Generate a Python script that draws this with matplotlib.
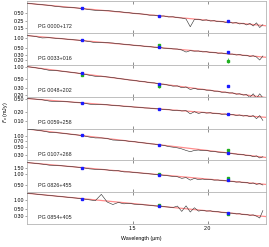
import numpy as np
import matplotlib
matplotlib.use("Agg")
import matplotlib.pyplot as plt
from matplotlib.ticker import FixedLocator, NullLocator, FixedFormatter

plt.rcParams['font.family'] = ['Liberation Sans', 'DejaVu Sans']
plt.rcParams['font.size'] = 3.8

# -------------------------------
# DATA
# -------------------------------
wave = [1.00, 1.03, 1.06, 1.09, 1.12, 1.15, 1.18, 1.21, 1.24, 1.27,
        1.30, 1.33, 1.36, 1.39, 1.42, 1.45, 1.48, 1.51, 1.54, 1.57,
        1.60, 1.63, 1.66, 1.69, 1.72, 1.75, 1.78, 1.81, 1.84, 1.87,
        1.90, 1.93, 1.96, 1.99, 2.02, 2.05, 2.08, 2.11, 2.14, 2.17,
        2.20, 2.23, 2.26, 2.29, 2.32, 2.35, 2.38, 2.41, 2.44, 2.47]

names = ["PG 0000+172", "PG 0033+016", "PG 0048+202", "PG 0059+258",
         "PG 0107+268", "PG 0826+455", "PG 0854+405"]

flux_0000 = [1.08, 1.018, 0.961, 0.909, 0.83, 0.79, 0.775, 0.738, 0.702, 0.64,
             0.61, 0.60, 0.595, 0.57, 0.55, 0.52, 0.50, 0.47, 0.46, 0.44,
             0.41, 0.41, 0.38, 0.385, 0.355, 0.36, 0.335, 0.325, 0.30, 0.16,
             0.29, 0.295, 0.27, 0.28, 0.255, 0.262, 0.24, 0.25, 0.228, 0.235,
             0.215, 0.225, 0.20, 0.215, 0.185, 0.21, 0.17, 0.22, 0.15, 0.19]
flux_0033 = [1.22, 1.15, 1.02, 1.04, 0.99, 0.955, 0.91, 0.875, 0.84, 0.78,
             0.72, 0.74, 0.72, 0.70, 0.67, 0.64, 0.62, 0.59, 0.58, 0.55,
             0.54, 0.515, 0.51, 0.48, 0.475, 0.455, 0.45, 0.42, 0.36, 0.40,
             0.385, 0.39, 0.365, 0.37, 0.35, 0.355, 0.33, 0.335, 0.32, 0.31,
             0.31, 0.29, 0.30, 0.28, 0.285, 0.26, 0.275, 0.25, 0.20, 0.27]
flux_0048 = [1.05, 0.99, 0.92, 0.84, 0.83, 0.79, 0.755, 0.72, 0.68, 0.63,
             0.59, 0.595, 0.57, 0.55, 0.52, 0.50, 0.475, 0.465, 0.44, 0.43,
             0.405, 0.40, 0.375, 0.37, 0.35, 0.33, 0.335, 0.30, 0.315, 0.27,
             0.29, 0.27, 0.275, 0.26, 0.26, 0.245, 0.245, 0.23, 0.232, 0.22,
             0.222, 0.205, 0.21, 0.195, 0.20, 0.17, 0.21, 0.16, 0.21, 0.165]
flux_0059 = [0.52, 0.50, 0.475, 0.43, 0.415, 0.42, 0.405, 0.39, 0.375, 0.345,
             0.33, 0.335, 0.33, 0.315, 0.31, 0.295, 0.29, 0.278, 0.274, 0.262,
             0.258, 0.247, 0.245, 0.234, 0.232, 0.22, 0.222, 0.21, 0.215, 0.17,
             0.20, 0.175, 0.19, 0.18, 0.185, 0.172, 0.176, 0.165, 0.168, 0.158,
             0.162, 0.152, 0.157, 0.145, 0.152, 0.138, 0.15, 0.12, 0.15, 0.105]
flux_0107 = [1.55, 1.46, 1.37, 1.25, 1.22, 1.17, 1.11, 1.06, 1.005, 0.92,
             0.87, 0.87, 0.84, 0.76, 0.75, 0.74, 0.70, 0.685, 0.65, 0.63,
             0.60, 0.585, 0.56, 0.54, 0.50, 0.48, 0.46, 0.43, 0.39, 0.36,
             0.39, 0.40, 0.385, 0.39, 0.37, 0.365, 0.35, 0.345, 0.335, 0.33,
             0.315, 0.31, 0.295, 0.30, 0.28, 0.285, 0.26, 0.275, 0.24, 0.26]
flux_0826 = [2.05, 1.96, 1.86, 1.74, 1.72, 1.66, 1.60, 1.54, 1.48, 1.38,
             1.34, 1.33, 1.29, 1.22, 1.23, 1.14, 1.14, 1.10, 1.07, 1.04,
             1.01, 0.98, 0.955, 0.92, 0.89, 0.86, 0.84, 0.76, 0.80, 0.68,
             0.76, 0.70, 0.73, 0.70, 0.71, 0.68, 0.685, 0.66, 0.655, 0.635,
             0.63, 0.60, 0.61, 0.58, 0.59, 0.55, 0.57, 0.52, 0.55, 0.50]
flux_0854 = [1.75, 1.65, 1.55, 1.47, 1.39, 1.32, 1.25, 1.19, 1.12, 1.04,
             0.98, 1.60, 0.88, 0.72, 0.85, 0.76, 0.79, 0.74, 0.73, 0.70,
             0.68, 0.65, 0.63, 0.61, 0.59, 0.57, 0.64, 0.42, 0.65, 0.40,
             0.56, 0.43, 0.46, 0.43, 0.44, 0.41, 0.41, 0.39, 0.385, 0.37,
             0.365, 0.345, 0.35, 0.325, 0.33, 0.31, 0.32, 0.29, 0.25, 0.45]

# model (red line) end points at 1.0 and 2.5 micron
model_wave = [1.0, 2.5]
model_0000 = [1.08, 0.173]
model_0033 = [1.22, 0.245]
model_0048 = [1.05, 0.168]
model_0059 = [0.52, 0.132]
model_0107 = [1.55, 0.248]
model_0826 = [2.05, 0.519]
model_0854 = [1.75, 0.28]

# photometry J, H, K
phot_wave = [1.235, 1.662, 2.159]
blue_0000 = [0.71, 0.39, 0.25]
blue_0033 = [0.87, 0.51, 0.35]
blue_0048 = [0.70, 0.385, 0.34]
blue_0059 = [0.385, 0.245, 0.165]
blue_0107 = [1.02, 0.56, 0.34]
blue_0826 = [1.50, 0.96, 0.70]
blue_0854 = [1.15, 0.63, 0.375]

nan = np.nan
green_0000 = [nan, nan, nan]
green_0033 = [nan, 0.62, 0.19]
green_0048 = [0.62, 0.34, nan]
green_0059 = [nan, nan, nan]
green_0107 = [nan, nan, 0.41]
green_0826 = [nan, 1.00, 0.80]
green_0854 = [nan, 0.67, 0.34]
green_err_0000 = [0, 0, 0]
green_err_0033 = [0, 0.03, 0.035]
green_err_0048 = [0.03, 0.04, 0]
green_err_0059 = [0, 0, 0]
green_err_0107 = [0, 0, 0.02]
green_err_0826 = [0, 0.03, 0.03]
green_err_0854 = [0, 0.03, 0.03]

yticks = [[0.50, 0.25, 0.15], [1.00, 0.50, 0.30, 0.20], [1.00, 0.50, 0.30, 0.20],
          [0.50, 0.20, 0.10], [1.00, 0.70, 0.50, 0.30], [1.50, 1.00, 0.50],
          [1.00, 0.50, 0.30]]
ylims = [(0.094, 1.25), (0.138, 1.44), (0.175, 1.15), (0.058, 0.586),
         (0.205, 1.58), (0.318, 2.34), (0.156, 1.89)]

fluxes = [flux_0000, flux_0033, flux_0048, flux_0059, flux_0107, flux_0826, flux_0854]
models = [model_0000, model_0033, model_0048, model_0059, model_0107, model_0826, model_0854]
blues = [blue_0000, blue_0033, blue_0048, blue_0059, blue_0107, blue_0826, blue_0854]
greens = [green_0000, green_0033, green_0048, green_0059, green_0107, green_0826, green_0854]
green_errs = [green_err_0000, green_err_0033, green_err_0048, green_err_0059,
              green_err_0107, green_err_0826, green_err_0854]

# -------------------------------
# PLOT
# -------------------------------
frame = '#b4b4b4'
fig, axes = plt.subplots(7, 1, sharex=True, figsize=(2.69, 2.47), dpi=100)
fig.subplots_adjust(left=0.100, right=0.989, top=0.994, bottom=0.093, hspace=0)

for i, ax in enumerate(axes):
    ax.set_xscale('log')
    ax.set_yscale('log')
    # model underneath, spectrum on top
    ax.plot(model_wave, models[i], color='#ff4040', lw=0.9, alpha=0.6, zorder=2)
    ax.plot(wave, fluxes[i], color='#2a2a2a', lw=0.4, zorder=3)
    ax.errorbar(phot_wave, greens[i], yerr=green_errs[i], fmt='s', ms=1.5,
                color='#20b020', elinewidth=0.5, capsize=0, zorder=4)
    ax.plot(phot_wave, blues[i], 's', ms=1.6, color='#1a1aff', zorder=5)
    ax.text(0.047, 0.2, names[i], transform=ax.transAxes, fontsize=3.9,
            color='#202020', va='center', ha='left')

    ax.set_xlim(1.0, 2.5)
    ax.set_ylim(*ylims[i])
    ax.yaxis.set_major_locator(FixedLocator(yticks[i]))
    ax.yaxis.set_major_formatter(FixedFormatter(['%.2f' % t for t in yticks[i]]))
    ax.yaxis.set_minor_locator(NullLocator())
    ax.xaxis.set_major_locator(FixedLocator([1.5, 2.0]))
    ax.xaxis.set_major_formatter(FixedFormatter(['1.5', '2.0']))
    ax.xaxis.set_minor_locator(NullLocator())

    for s in ax.spines.values():
        s.set_color(frame)
        s.set_linewidth(0.6)
    ax.tick_params(axis='x', which='both', direction='in', top=True, length=2,
                   width=0.5, color='#606060', pad=1.5)
    ax.tick_params(axis='y', which='both', direction='out', right=False, length=1.2,
                   width=0.4, color='#606060', pad=0.6)

fig.text(0.526, 0.036, 'Wavelength (μm)', ha='center', va='center', fontsize=3.8)
fig.text(0.02, 0.547, r'$F_\nu$ (mJy)', rotation=90, ha='center', va='center', fontsize=3.8)

plt.savefig('out.png', dpi=100)
